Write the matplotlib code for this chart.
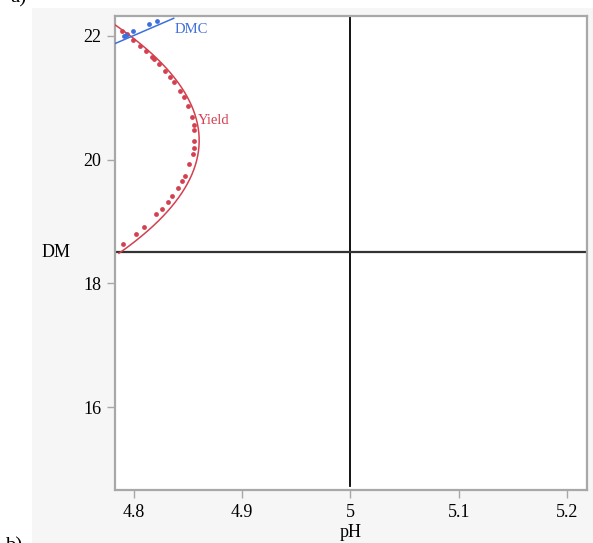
import numpy as np
import matplotlib
matplotlib.use("Agg")
import matplotlib.pyplot as plt
from matplotlib.patches import Rectangle

# Yield: observed points (pH, DM)
yield_ph = [4.7886, 4.7938, 4.7994, 4.8055, 4.8111, 4.8166, 4.8182, 4.8234,
            4.8289, 4.8333, 4.8372, 4.8425, 4.8459, 4.8499, 4.8533, 4.8552,
            4.8554, 4.8557, 4.8554, 4.8542, 4.8511, 4.8468, 4.8441, 4.8404,
            4.8351, 4.8311, 4.8256, 4.8206, 4.8095, 4.8021, 4.7901]
yield_dm = [22.086, 22.027, 21.930, 21.843, 21.757, 21.665, 21.633, 21.547,
            21.439, 21.342, 21.251, 21.106, 21.014, 20.868, 20.686, 20.566,
            20.480, 20.302, 20.194, 20.092, 19.926, 19.741, 19.651, 19.547,
            19.413, 19.321, 19.203, 19.117, 18.917, 18.804, 18.637]

# Yield: fitted contour
yield_curve_ph = [4.7834, 4.7994, 4.8210, 4.8394, 4.8517, 4.8585, 4.8594,
                  4.8573, 4.8517, 4.8394, 4.8240, 4.8086, 4.7846]
yield_curve_dm = [22.215, 21.935, 21.612, 21.235, 20.912, 20.534, 20.157,
                  19.887, 19.618, 19.295, 19.025, 18.810, 18.487]

# DMC: observed points and fitted line end points
dmc_ph = [4.7910, 4.7930, 4.7994, 4.8139, 4.8215]
dmc_dm = [22.005, 22.020, 22.076, 22.189, 22.243]
dmc_line_ph = [4.7831, 4.8367]
dmc_line_dm = [21.882, 22.286]

# reference cross-hair
ref_ph = 5.0
ref_dm = 18.5

x_ticks = [4.8, 4.9, 5.0, 5.1, 5.2]
x_tick_labels = ["4.8", "4.9", "5", "5.1", "5.2"]
y_ticks = [16, 18, 20, 22]

red = "#d4404f"
blue = "#3f6fdc"
grey = "#a8a8a8"

plt.rcParams["font.family"] = ["Liberation Serif", "DejaVu Serif"]

fig = plt.figure(figsize=(5.93, 5.43), dpi=100)
fig.patches.append(Rectangle((32 / 593, 0), 1, 1 - 8 / 543,
                             transform=fig.transFigure, facecolor="#f6f6f6",
                             edgecolor="none", zorder=-10))

ax = fig.add_axes([115 / 593, 1 - 490 / 543, 472 / 593, 474 / 543])
ax.set_facecolor("white")

# smooth the fitted contour with a quadratic in DM
coef = np.polyfit(yield_curve_dm, yield_curve_ph, 2)
dm_s = np.linspace(min(yield_curve_dm), max(yield_curve_dm), 200)
ax.plot(np.polyval(coef, dm_s), dm_s, color=red, lw=1.1, zorder=3)
ax.scatter(yield_ph, yield_dm, s=12, color=red, zorder=4, linewidths=0)

ax.plot(dmc_line_ph, dmc_line_dm, color=blue, lw=1.1, zorder=3)
ax.scatter(dmc_ph, dmc_dm, s=12, color=blue, zorder=4, linewidths=0)

ax.axvline(ref_ph, ymin=0.008, color="black", lw=1.3, zorder=2)
ax.axhline(ref_dm, color="#333333", lw=1.6, zorder=2)

ax.text(4.8375, 22.11, "DMC", color=blue, fontsize=10.5, va="center")
ax.text(4.8585, 20.63, "Yield", color=red, fontsize=10.5, va="center")

ax.set_xlim(4.78245, 5.2185)
ax.set_ylim(14.66, 22.323)
ax.set_xticks(x_ticks)
ax.set_xticklabels(x_tick_labels)
ax.set_yticks(y_ticks)
ax.tick_params(axis="both", direction="out", length=6, width=1, color=grey,
               labelsize=13, pad=4)
for s in ax.spines.values():
    s.set_color(grey)
    s.set_linewidth(1.6)

ax.set_xlabel("pH", fontsize=13, labelpad=2)
ax.set_ylabel("DM", fontsize=13, rotation=0, va="center", labelpad=30)
ax.yaxis.set_label_coords(-0.125, (18.5 - 14.66) / (22.323 - 14.66))

fig.text(10 / 593, 1 + 2 / 543, "a)", fontsize=15, va="center")
fig.text(5 / 593, -4 / 543, "b)", fontsize=15, va="center")

fig.savefig("out.png", dpi=100)
